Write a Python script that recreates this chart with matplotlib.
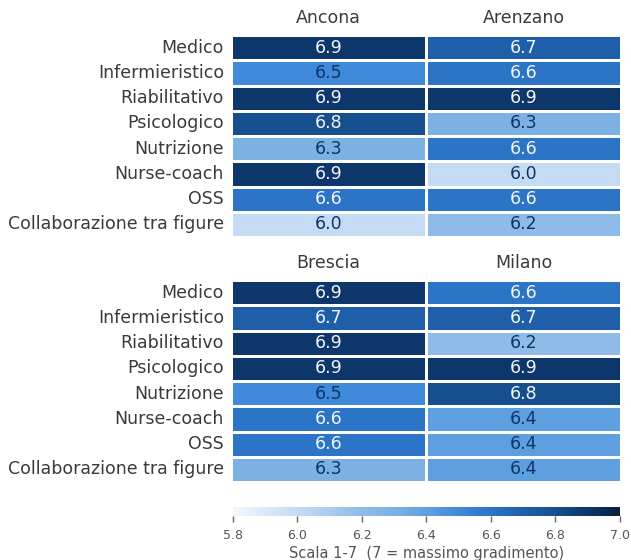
import matplotlib
matplotlib.use("Agg")
import matplotlib.pyplot as plt
import numpy as np
import seaborn as sns
from matplotlib.colors import Normalize, LinearSegmentedColormap
from matplotlib.cm import ScalarMappable

categories = ["Medico", "Infermieristico", "Riabilitativo", "Psicologico",
              "Nutrizione", "Nurse-coach", "OSS", "Collaborazione tra figure"]
top_sites = ["Ancona", "Arenzano"]
bottom_sites = ["Brescia", "Milano"]
ancona = [6.9, 6.5, 6.9, 6.8, 6.3, 6.9, 6.6, 6.0]
arenzano = [6.7, 6.6, 6.9, 6.3, 6.6, 6.0, 6.6, 6.2]
brescia = [6.9, 6.7, 6.9, 6.9, 6.5, 6.6, 6.6, 6.3]
milano = [6.6, 6.7, 6.2, 6.9, 6.8, 6.4, 6.4, 6.4]
cbar_ticks = [5.8, 6.0, 6.2, 6.4, 6.6, 6.8, 7.0]
vmin, vmax = 5.8, 7.0

cmap = LinearSegmentedColormap.from_list("blues_ref", [
    (0.00, "#f2f7fd"),
    (0.167, "#c3dbf3"),
    (0.333, "#8fbbe8"),
    (0.417, "#7db1e4"),
    (0.50, "#5f9fe0"),
    (0.583, "#3f8ad9"),
    (0.667, "#2b74c6"),
    (0.75, "#1f60ab"),
    (0.833, "#164f8f"),
    (0.917, "#0d376b"),
    (1.00, "#0a1f3c"),
])

fig = plt.figure(figsize=(6.31, 5.60), dpi=100)
W, H = 631, 560

def ax_px(x0, y0, x1, y1):
    return fig.add_axes([x0 / W, 1 - y1 / H, (x1 - x0) / W, (y1 - y0) / H])

ax_top = ax_px(231, 35, 621, 237)
ax_bot = ax_px(231, 280, 621, 482)
cax = ax_px(233, 507, 620, 516)

label_color = "#3a3a3a"
dark_text = "#0d3467"

def draw(ax, sites, cols):
    data = np.array(cols).T
    sns.heatmap(data, ax=ax, cmap=cmap, vmin=vmin, vmax=vmax, cbar=False,
                linewidths=2, linecolor="white", annot=False,
                xticklabels=sites, yticklabels=categories)
    for i in range(data.shape[0]):
        for j in range(data.shape[1]):
            v = data[i, j]
            c = "#f4f6fa" if v >= 6.55 else dark_text
            ax.text(j + 0.5, i + 0.5, f"{v:.1f}", ha="center", va="center",
                    fontsize=12.5, color=c)
    ax.xaxis.tick_top()
    ax.tick_params(axis="both", length=0, labelsize=12.5, labelcolor=label_color)
    ax.tick_params(axis="x", pad=6)
    ax.tick_params(axis="y", pad=5)
    ax.set_xticklabels(sites, rotation=0)
    ax.set_yticklabels(categories, rotation=0)
    ax.set_xlabel("")
    ax.set_ylabel("")

draw(ax_top, top_sites, [ancona, arenzano])
draw(ax_bot, bottom_sites, [brescia, milano])

sm = ScalarMappable(norm=Normalize(vmin=vmin, vmax=vmax), cmap=cmap)
cb = fig.colorbar(sm, cax=cax, orientation="horizontal")
cb.outline.set_visible(False)
cb.set_ticks(cbar_ticks)
cb.set_ticklabels([f"{t:.1f}" for t in cbar_ticks])
cax.xaxis.set_ticks_position("bottom")
cax.xaxis.set_tick_params(which="major", direction="out", length=4, width=1,
                          color="#666666", pad=5.5, labelsize=9, labelcolor="#555555")
cax.xaxis.set_tick_params(which="minor", length=0)
cax.set_xlabel("Scala 1-7  (7 = massimo gradimento)", fontsize=10.5, color="#555555", labelpad=3)

fig.savefig("out.png", dpi=100)
